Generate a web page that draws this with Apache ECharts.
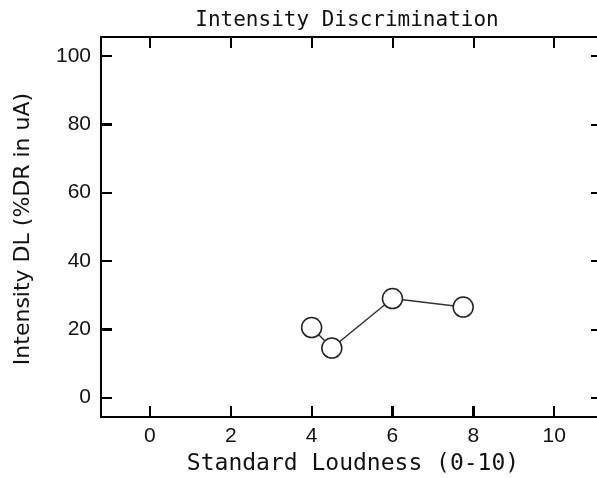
<!DOCTYPE html>
<html><head><meta charset="utf-8">
<script src="https://cdn.jsdelivr.net/npm/echarts@6/dist/echarts.min.js"></script>
<style>html,body{margin:0;padding:0;background:#fff}#c{width:597px;height:478px}</style>
</head><body><div id="c"></div>
<script>
const loudness = [4, 4.5, 6, 7.75];
const intensityDL = [20.5, 14.5, 29, 26.5];
const xTicks = [0, 2, 4, 6, 8, 10];
const yTicks = [0, 20, 40, 60, 80, 100];
const titleText = 'Intensity Discrimination';
const xTitle = 'Standard Loudness (0-10)';
const yTitle = 'Intensity DL (%DR in uA)';

const chart = echarts.init(document.getElementById('c'));
const lineStyle = {color: '#000', width: 2};
const tickStyle = {color: '#000', width: 2};
const labelFont = {color: '#111', fontSize: 21, fontFamily: 'Liberation Sans'};
const xMin = -1.21, xMax = 11.06, yMin = -5.7, yMax = 105.6;
const tickLen = 11;

function tickAxis(position, min, max, ticks, len, showLine) {
  return {type: 'value', position: position, min: min, max: max,
    axisLine: {show: true, onZero: false, lineStyle: showLine ? lineStyle : {color: 'rgba(0,0,0,0)', width: 1}},
    axisTick: {show: true, inside: true, length: len, lineStyle: tickStyle, customValues: ticks},
    axisLabel: {show: false}, splitLine: {show: false}};
}
function labelAxis(position, min, max, ticks, margin) {
  return {type: 'value', position: position, min: min, max: max, offset: 0,
    axisLine: {show: false, onZero: false},
    axisTick: {show: false},
    axisLabel: {customValues: ticks, margin: margin, ...labelFont},
    splitLine: {show: false}};
}

const textGraphics = [
  {type: 'text', x: 347, y: 21, style: {text: titleText, font: '21px "DejaVu Sans Mono"', fill: '#111', textAlign: 'center', textVerticalAlign: 'middle'}},
  {type: 'text', x: 353, y: 464, style: {text: xTitle, font: '23px "DejaVu Sans Mono"', fill: '#111', textAlign: 'center', textVerticalAlign: 'middle'}},
  {type: 'text', x: 23, y: 229, rotation: Math.PI / 2, style: {text: yTitle, font: '22px "DejaVu Sans"', fill: '#111', textAlign: 'center', textVerticalAlign: 'middle'}}
];

chart.setOption({
  animation: false,
  grid: {left: 101, right: 0, top: 37, bottom: 61, outerBoundsMode: 'none', containLabel: false},
  graphic: textGraphics,
  xAxis: [
    tickAxis('bottom', xMin, xMax, xTicks, tickLen, true),
    tickAxis('top', xMin, xMax, xTicks, tickLen, true),
    labelAxis('bottom', xMin, xMax, xTicks, 9)
  ],
  yAxis: [
    tickAxis('left', yMin, yMax, yTicks, tickLen, true),
    tickAxis('right', yMin, yMax, yTicks, 6, false),
    labelAxis('left', yMin, yMax, yTicks, 10)
  ],
  series: [{
    type: 'line',
    xAxisIndex: 0, yAxisIndex: 0,
    data: loudness.map((x, i) => [x, intensityDL[i]]),
    symbol: 'circle', symbolSize: 20,
    lineStyle: {color: '#333', width: 1.5},
    itemStyle: {color: '#fff', borderColor: '#222', borderWidth: 1.5},
    z: 3
  }]
});

// bottom and left inside ticks, placed through the axis scales
const axisY = chart.convertToPixel({yAxisIndex: 0}, yMin);
const axisX = chart.convertToPixel({xAxisIndex: 0}, xMin);
const tickGraphics = [];
xTicks.forEach(v => {
  const px = Math.round(chart.convertToPixel({xAxisIndex: 0}, v));
  tickGraphics.push({type: 'line', shape: {x1: px, y1: axisY, x2: px, y2: axisY - tickLen}, style: {stroke: '#000', lineWidth: 2}, z: 10});
});
yTicks.forEach(v => {
  const py = Math.round(chart.convertToPixel({yAxisIndex: 0}, v));
  tickGraphics.push({type: 'line', shape: {x1: axisX, y1: py, x2: axisX + tickLen, y2: py}, style: {stroke: '#000', lineWidth: 2}, z: 10});
});
chart.setOption({graphic: textGraphics.concat(tickGraphics)});
</script></body></html>
